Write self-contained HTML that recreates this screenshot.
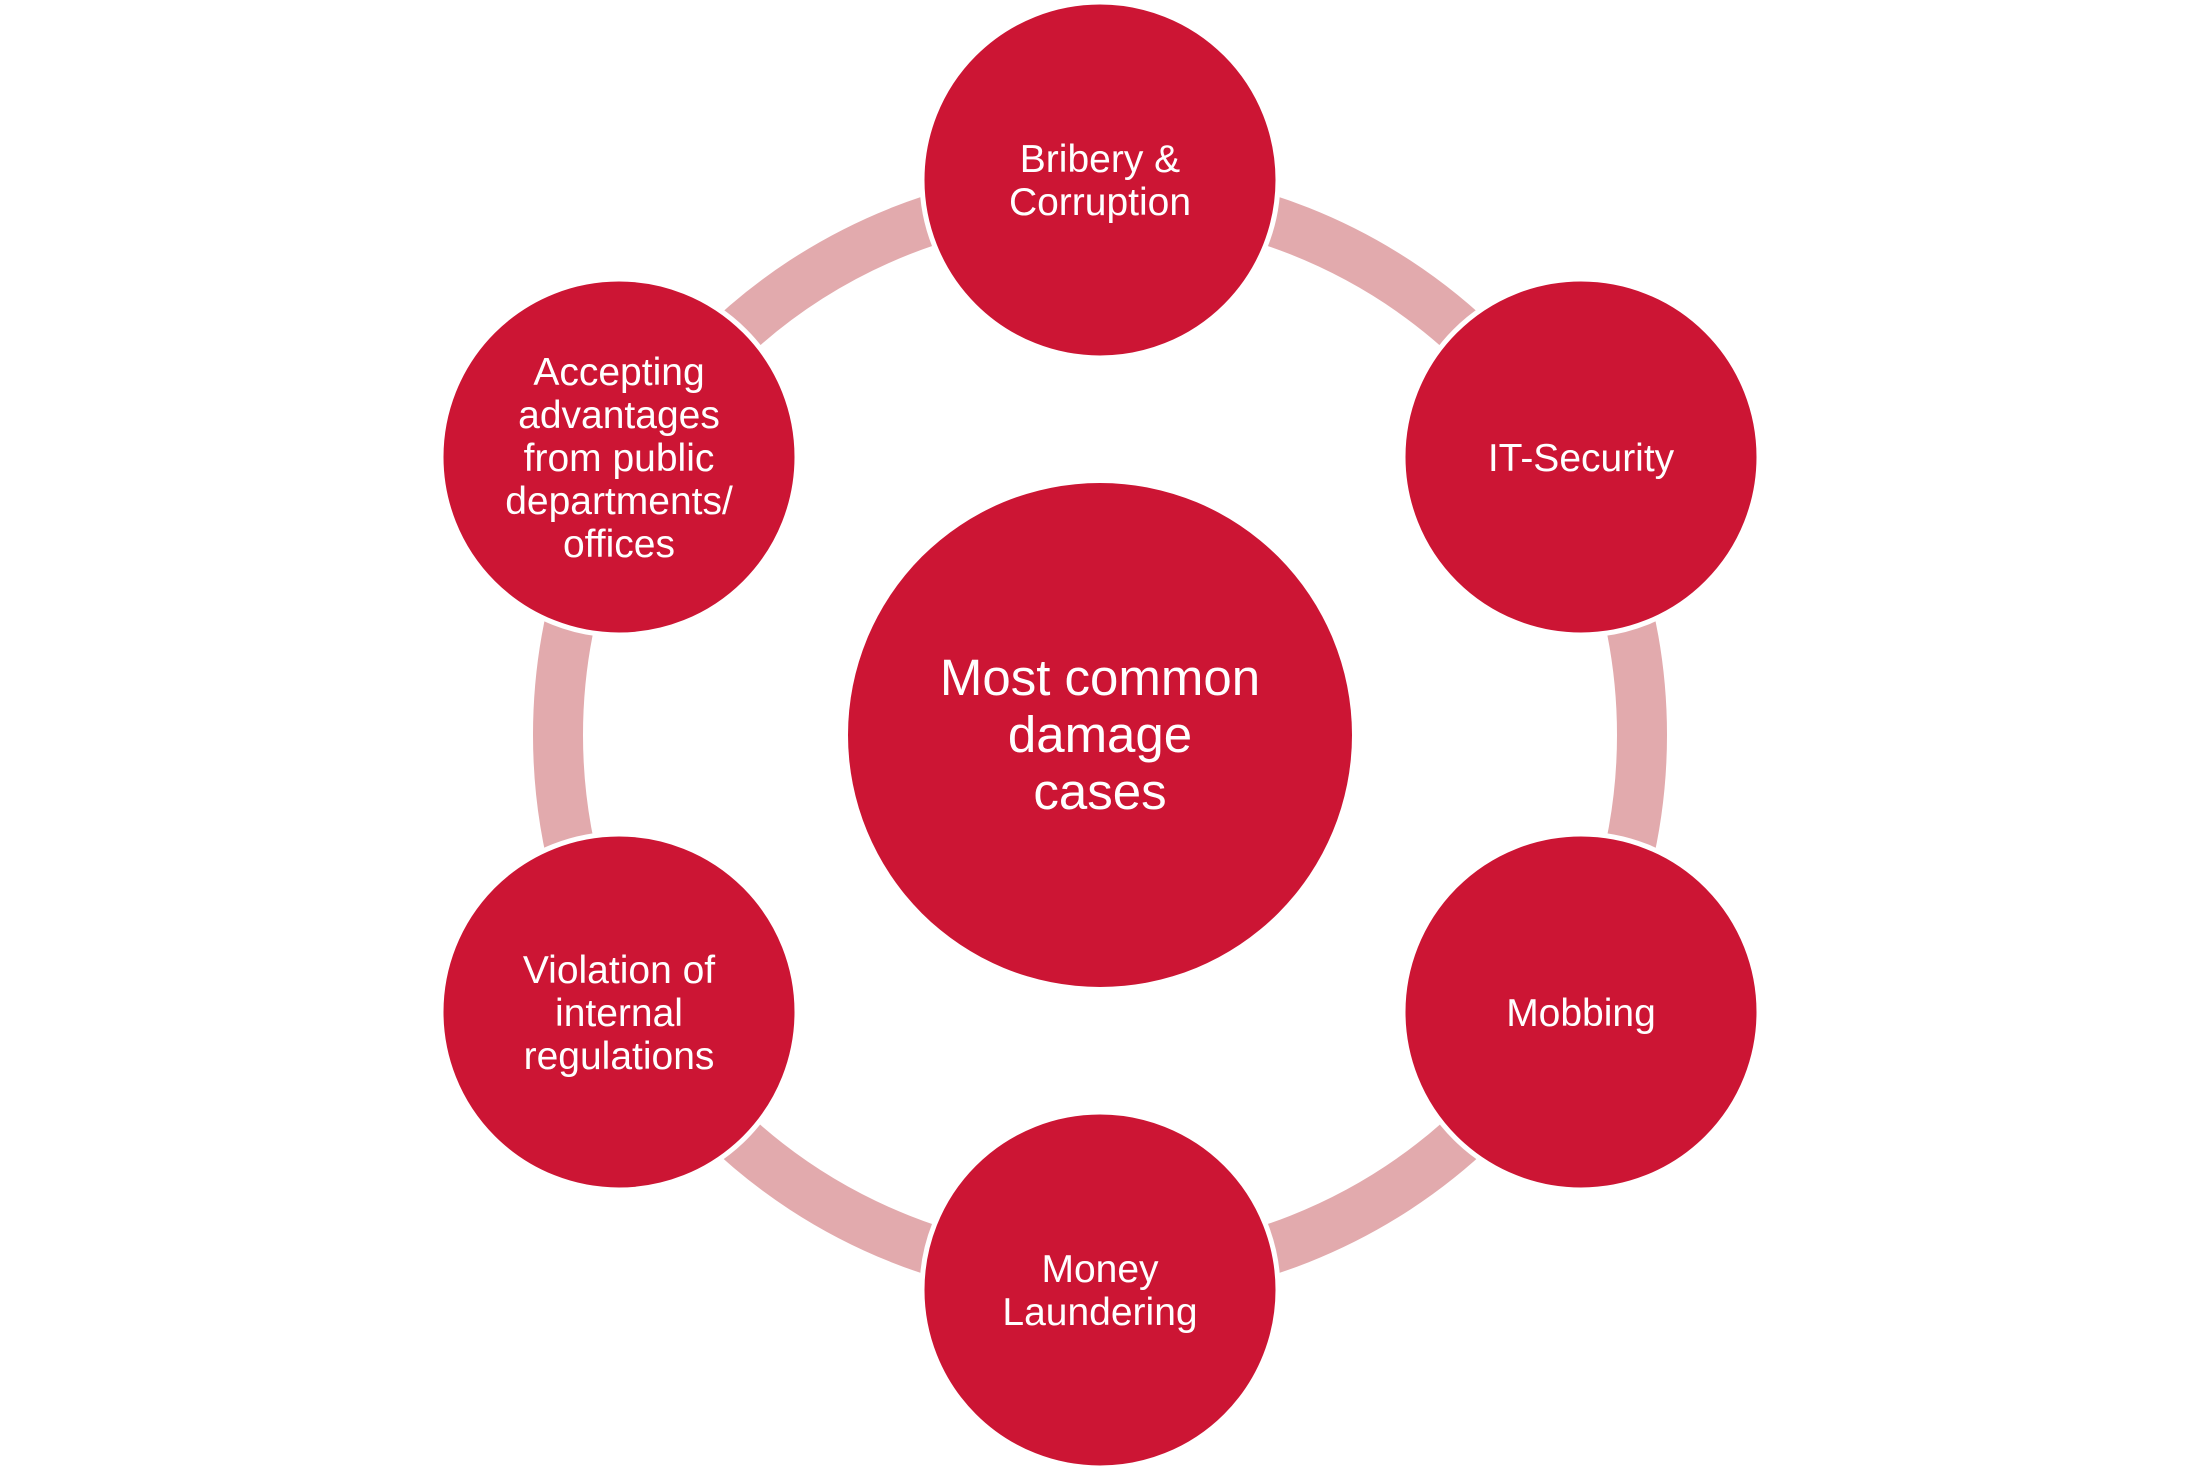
<!DOCTYPE html>
<html><head><meta charset="utf-8"><style>
html,body{margin:0;padding:0;background:#fff;}
svg{display:block;}
text{font-family:"Liberation Sans",Arial,sans-serif;fill:#fff;text-anchor:middle;}
</style></head><body>
<svg width="2200" height="1471" viewBox="0 0 2200 1471">
<circle cx="1100" cy="735" r="542" fill="none" stroke="#e2aaad" stroke-width="50"/>
<g fill="#cc1534" stroke="#fff" stroke-width="5">
<circle cx="1100" cy="180" r="178"/>
<circle cx="1581" cy="457" r="178"/>
<circle cx="1581" cy="1012" r="178"/>
<circle cx="1100" cy="1290" r="178"/>
<circle cx="619" cy="1012" r="178"/>
<circle cx="619" cy="457" r="178"/>
<circle cx="1100" cy="735" r="252" stroke="none"/>
</g>
<g font-size="39">
<text x="1100" y="172">Bribery &amp;</text>
<text x="1100" y="215">Corruption</text>
<text x="1581" y="471">IT-Security</text>
<text x="1581" y="1026">Mobbing</text>
<text x="1100" y="1282">Money</text>
<text x="1100" y="1325">Laundering</text>
<text x="619" y="983">Violation of</text>
<text x="619" y="1026">internal</text>
<text x="619" y="1069">regulations</text>
<text x="619" y="385">Accepting</text>
<text x="619" y="428">advantages</text>
<text x="619" y="471">from public</text>
<text x="619" y="514">departments/</text>
<text x="619" y="557">offices</text>
</g>
<g font-size="51">
<text x="1100" y="695">Most common</text>
<text x="1100" y="752">damage</text>
<text x="1100" y="809">cases</text>
</g>
</svg>
</body></html>
